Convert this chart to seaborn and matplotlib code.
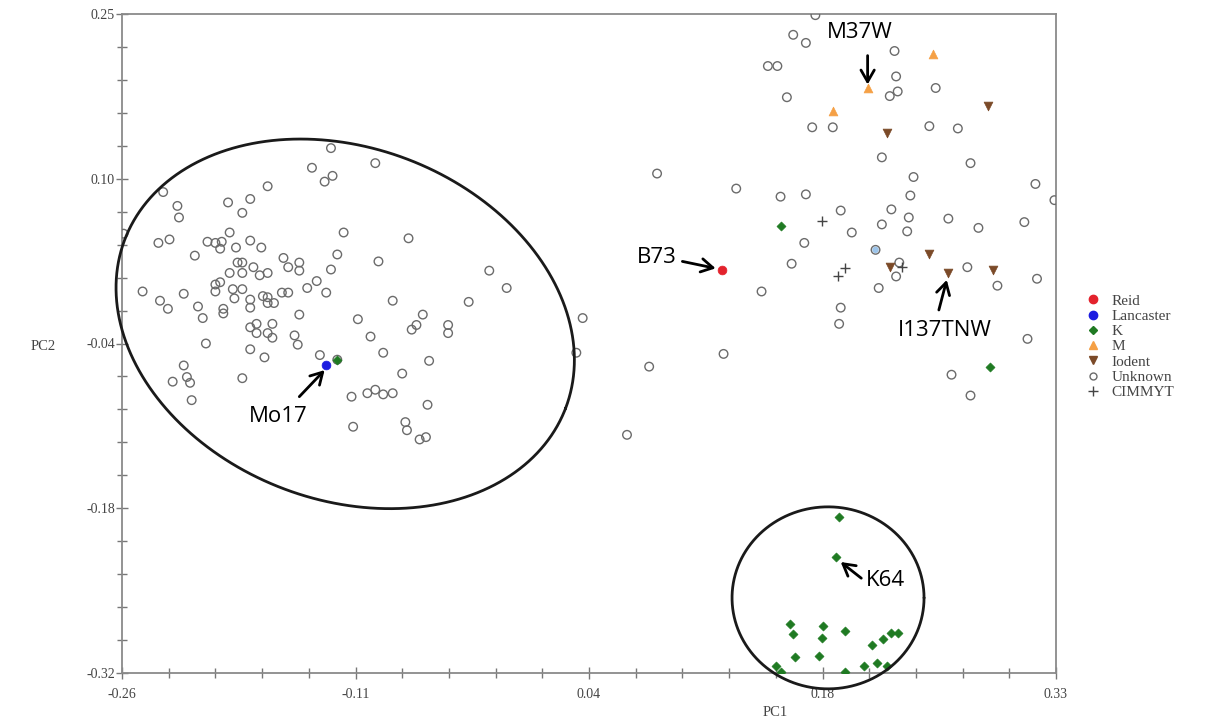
import numpy as np
import pandas as pd
import matplotlib
matplotlib.use("Agg")
import matplotlib.pyplot as plt
import seaborn as sns
from matplotlib.lines import Line2D
from matplotlib.ticker import FixedLocator, FixedFormatter

# ---------------- data ----------------
unknown_pc1 = [-0.128, -0.100, -0.140, -0.127, -0.132, -0.234, -0.168, -0.225, -0.193, -0.179,
               -0.224, -0.184, -0.120, -0.259, -0.237, -0.230, -0.192, -0.206, -0.201, -0.197,
               -0.198, -0.188, -0.179, -0.172, -0.214, -0.158, -0.155, -0.148, -0.148, -0.124,
               -0.098, -0.128, -0.187, -0.184, -0.177, -0.192, -0.184, -0.173, -0.168, -0.137,
               -0.143, -0.247, -0.221, -0.201, -0.198, -0.201, -0.190, -0.184, -0.189, -0.131,
               -0.159, -0.155, -0.171, -0.168, -0.236, -0.179, -0.179, -0.168, -0.164, -0.089,
               -0.212, -0.231, -0.196, -0.196, -0.209, -0.148, -0.079, -0.028, -0.017, -0.041,
               -0.111, -0.070, -0.074, -0.077, -0.054, -0.054, -0.103, -0.179, -0.175, -0.175,
               -0.168, -0.165, -0.165, -0.151, -0.149, -0.095, -0.207, -0.179, -0.170, -0.135,
               -0.066, -0.083, -0.184, -0.115, -0.105, -0.100, -0.095, -0.089, -0.067, -0.114,
               -0.081, -0.080, -0.072, -0.068, -0.221, -0.228, -0.219, -0.217, -0.216, 0.031,
               0.027, -0.124,
               0.078, 0.128, 0.120, 0.073, 0.059,
               0.178, 0.164, 0.172, 0.148, 0.154, 0.228, 0.229, 0.230, 0.225, 0.254,
               0.160, 0.176, 0.189, 0.250, 0.268, 0.220, 0.276, 0.240, 0.317, 0.156,
               0.172, 0.238, 0.329, 0.194, 0.226, 0.237, 0.201, 0.220, 0.236, 0.262,
               0.281, 0.310, 0.171, 0.216, 0.163, 0.231, 0.229, 0.274, 0.318, 0.293,
               0.144, 0.218, 0.194, 0.193, 0.312, 0.264, 0.276]
unknown_pc2 = [0.134, 0.121, 0.117, 0.110, 0.105, 0.096, 0.101, 0.084, 0.087, 0.090,
               0.074, 0.078, 0.061, 0.060, 0.052, 0.055, 0.061, 0.053, 0.052, 0.053,
               0.047, 0.048, 0.054, 0.048, 0.041, 0.039, 0.031, 0.035, 0.028, 0.042,
               0.036, 0.029, 0.035, 0.035, 0.031, 0.026, 0.026, 0.024, 0.026, 0.019,
               0.013, 0.010, 0.008, 0.016, 0.018, 0.010, 0.012, 0.012, 0.004, 0.009,
               0.009, 0.009, 0.006, 0.005, 0.002, 0.003, -0.004, 0.000, 0.000, 0.002,
               -0.003, -0.005, -0.005, -0.009, -0.013, -0.010, 0.056, 0.028, 0.013, 0.001,
               -0.014, -0.010, -0.019, -0.023, -0.019, -0.026, -0.029, -0.021, -0.018, -0.026,
               -0.026, -0.018, -0.030, -0.028, -0.036, -0.043, -0.035, -0.040, -0.047, -0.045,
               -0.050, -0.061, -0.065, -0.081, -0.078, -0.075, -0.079, -0.078, -0.088, -0.107,
               -0.103, -0.110, -0.118, -0.116, -0.054, -0.068, -0.064, -0.069, -0.084, -0.013,
               -0.043, -0.049,
               0.112, 0.099, -0.044, -0.055, -0.114,
               0.249, 0.232, 0.225, 0.205, 0.205, 0.218, 0.196, 0.183, 0.179, 0.186,
               0.178, 0.152, 0.152, 0.153, 0.151, 0.126, 0.121, 0.109, 0.103, 0.092,
               0.094, 0.093, 0.089, 0.080, 0.081, 0.074, 0.061, 0.068, 0.062, 0.073,
               0.065, 0.070, 0.052, 0.046, 0.034, 0.035, 0.023, 0.031, 0.021, 0.015,
               0.010, 0.013, -0.004, -0.018, -0.031, -0.062, -0.080]

reid_pc1 = [0.119]
reid_pc2 = [0.029]
lancaster_pc1 = [-0.131, 0.216]
lancaster_pc2 = [-0.054, 0.046]
k_pc1 = [0.156, 0.288, -0.124, 0.193, 0.191, 0.162, 0.164, 0.183, 0.197, 0.182,
         0.214, 0.221, 0.226, 0.230, 0.165, 0.180, 0.153, 0.156, 0.197, 0.209,
         0.217, 0.223]
k_pc2 = [0.067, -0.055, -0.049, -0.185, -0.220, -0.278, -0.286, -0.279, -0.284, -0.290,
         -0.296, -0.291, -0.285, -0.285, -0.306, -0.305, -0.314, -0.319, -0.319, -0.314,
         -0.311, -0.314]
m_pc1 = [0.252, 0.211, 0.189]
m_pc2 = [0.215, 0.186, 0.166]
iodent_pc1 = [0.287, 0.223, 0.250, 0.225, 0.262, 0.290]
iodent_pc2 = [0.170, 0.147, 0.042, 0.031, 0.026, 0.029]
cimmyt_pc1 = [0.182, 0.197, 0.192, 0.233]
cimmyt_pc2 = [0.071, 0.030, 0.023, 0.031]

x_tick_labels = ["-0.26", "-0.11", "0.04", "0.18", "0.33"]
y_tick_labels = ["-0.32", "-0.18", "-0.04", "0.10", "0.25"]

callout_names = ["M37W", "B73", "I137TNW", "Mo17", "K64"]
callout_text_xy = [(0.206, 0.234), (0.078, 0.039), (0.260, -0.024), (-0.161, -0.098), (0.222, -0.240)]
callout_tail_xy = [(0.211, 0.214), (0.094, 0.036), (0.256, -0.006), (-0.148, -0.081), (0.207, -0.238)]
callout_tip_xy = [(0.211, 0.189), (0.115, 0.030), (0.261, 0.020), (-0.132, -0.058), (0.194, -0.224)]

# ---------------- figure ----------------
sns.set_theme(style="white")
plt.rcParams["font.family"] = ["DejaVu Sans"]
fig = plt.figure(figsize=(12.3, 7.26), dpi=100)
W, H = 1230, 726
ax = fig.add_axes([122 / W, 1 - 673 / H, (1056 - 122) / W, (673 - 14) / H])
ax.set_xlim(-0.26, 0.33)
ax.set_ylim(-0.32, 0.25)

groups = [
    ("Unknown", unknown_pc1, unknown_pc2),
    ("Reid", reid_pc1, reid_pc2),
    ("Lancaster", lancaster_pc1, lancaster_pc2),
    ("K", k_pc1, k_pc2),
    ("M", m_pc1, m_pc2),
    ("Iodent", iodent_pc1, iodent_pc2),
    ("CIMMYT", cimmyt_pc1, cimmyt_pc2),
]
frames = [pd.DataFrame({"PC1": x, "PC2": y, "group": g}) for g, x, y in groups]
df = pd.concat(frames, ignore_index=True)

colors = {"Reid": "#e3222c", "Lancaster": "#1c1ce0", "K": "#1f7a22", "M": "#f5a045",
          "Iodent": "#7b4a28", "Unknown": "#6b6b6b", "CIMMYT": "#444444"}

# Lancaster second point lies under an unknown circle -> draw first
sub = df[df.group == "Lancaster"]
sns.scatterplot(data=sub.iloc[1:], x="PC1", y="PC2", ax=ax, marker="o", s=22,
                color="#9cc4ea", edgecolor="none", legend=False, zorder=2)
sub_u = df[df.group == "Unknown"]
ax.scatter(sub_u.PC1, sub_u.PC2, s=38, marker="o", facecolors="none",
           edgecolors=colors["Unknown"], linewidths=1.0, zorder=3)
sns.scatterplot(data=df[df.group == "K"], x="PC1", y="PC2", ax=ax, marker="D", s=22,
                color=colors["K"], edgecolor=colors["K"], legend=False, zorder=4)
sns.scatterplot(data=df[df.group == "M"], x="PC1", y="PC2", ax=ax, marker="^", s=40,
                color=colors["M"], edgecolor=colors["M"], legend=False, zorder=4)
sns.scatterplot(data=df[df.group == "Iodent"], x="PC1", y="PC2", ax=ax, marker="v", s=40,
                color=colors["Iodent"], edgecolor=colors["Iodent"], legend=False, zorder=4)
sns.scatterplot(data=df[df.group == "Reid"], x="PC1", y="PC2", ax=ax, marker="o", s=40,
                color=colors["Reid"], edgecolor=colors["Reid"], legend=False, zorder=4)
sns.scatterplot(data=sub.iloc[:1], x="PC1", y="PC2", ax=ax, marker="o", s=40,
                color=colors["Lancaster"], edgecolor=colors["Lancaster"], legend=False, zorder=4)
ax.scatter(df[df.group == "CIMMYT"].PC1, df[df.group == "CIMMYT"].PC2, marker="+", s=60,
           color=colors["CIMMYT"], linewidths=1.0, zorder=4)

ax.set_xlabel("")
ax.set_ylabel("")

# ---------------- ellipses (drawn in screen space around a data center) ----------------
def draw_ellipse(center, a_px, b_px, angle_deg):
    t = np.linspace(0, 2 * np.pi, 400)
    th = np.deg2rad(angle_deg)
    cx, cy = ax.transData.transform(center)
    dx = a_px * np.cos(t) * np.cos(th) - b_px * np.sin(t) * np.sin(th)
    dy = a_px * np.cos(t) * np.sin(th) + b_px * np.sin(t) * np.cos(th)
    pts = ax.transData.inverted().transform(np.column_stack([cx + dx, cy + dy]))
    ax.plot(pts[:, 0], pts[:, 1], color="#1a1a1a", lw=2.0, clip_on=False, zorder=5)

draw_ellipse((-0.119, -0.018), 236, 176, -21)
draw_ellipse((0.186, -0.255), 96, 91, 0)

# ---------------- callouts ----------------
for name, txy, tail, tip in zip(callout_names, callout_text_xy, callout_tail_xy, callout_tip_xy):
    ax.text(txy[0], txy[1], name, ha="center", va="center", fontsize=16,
            family=["Open Sans", "DejaVu Sans"], color="black", zorder=6)
    ax.annotate("", xy=tip, xytext=tail,
                arrowprops=dict(arrowstyle="->,head_length=0.7,head_width=0.4",
                                color="black", lw=2, shrinkA=0, shrinkB=0), zorder=6)

# ---------------- axes styling ----------------
ax.xaxis.set_major_locator(FixedLocator(np.linspace(-0.26, 0.33, 5)))
ax.xaxis.set_major_formatter(FixedFormatter(x_tick_labels))
ax.yaxis.set_major_locator(FixedLocator(np.linspace(-0.32, 0.25, 5)))
ax.yaxis.set_major_formatter(FixedFormatter(y_tick_labels))
ax.xaxis.set_minor_locator(FixedLocator(np.linspace(-0.26, 0.33, 21)))
ax.yaxis.set_minor_locator(FixedLocator(np.linspace(-0.32, 0.25, 21)))
for s in ax.spines.values():
    s.set_color("#8a8a8a")
    s.set_linewidth(1.3)
    s.set_visible(True)
ax.tick_params(axis="both", which="both", direction="inout", color="#777777",
               bottom=True, left=True, top=False, right=False)
ax.tick_params(axis="both", which="major", length=8, width=1.0, labelsize=10,
               labelcolor="#444444")
ax.tick_params(axis="x", which="major", pad=7)
ax.tick_params(axis="y", which="major", pad=1)
ax.tick_params(axis="both", which="minor", length=7, width=1.0)
for lab in ax.get_xticklabels() + ax.get_yticklabels():
    lab.set_family(["Liberation Serif", "DejaVu Serif"])

fig.text(775 / W, 1 - 712 / H, "PC1", ha="center", va="center", fontsize=10.5,
         color="#444444", family=["Liberation Serif", "DejaVu Serif"])
fig.text(43 / W, 1 - 346 / H, "PC2", ha="center", va="center", fontsize=10.5,
         color="#444444", family=["Liberation Serif", "DejaVu Serif"])

# ---------------- legend ----------------
legend_labels = ["Reid", "Lancaster", "K", "M", "Iodent", "Unknown", "CIMMYT"]
handles = [
    Line2D([], [], ls="", marker="o", ms=6, color=colors["Reid"]),
    Line2D([], [], ls="", marker="o", ms=6, color=colors["Lancaster"]),
    Line2D([], [], ls="", marker="D", ms=4, color=colors["K"]),
    Line2D([], [], ls="", marker="^", ms=6, color=colors["M"]),
    Line2D([], [], ls="", marker="v", ms=6, color=colors["Iodent"]),
    Line2D([], [], ls="", marker="o", ms=5, mfc="none", mec=colors["Unknown"]),
    Line2D([], [], ls="", marker="+", ms=7, color=colors["CIMMYT"]),
]
leg = fig.legend(handles, legend_labels, loc="upper left",
                 bbox_to_anchor=(1078 / W, 1 - 288 / H), frameon=False,
                 prop={"family": ["Liberation Serif", "DejaVu Serif"], "size": 11},
                 labelspacing=0.1, handletextpad=0.6, handlelength=1.2, borderaxespad=0)
for t in leg.get_texts():
    t.set_color("#444444")

fig.savefig("out.png", dpi=100)
